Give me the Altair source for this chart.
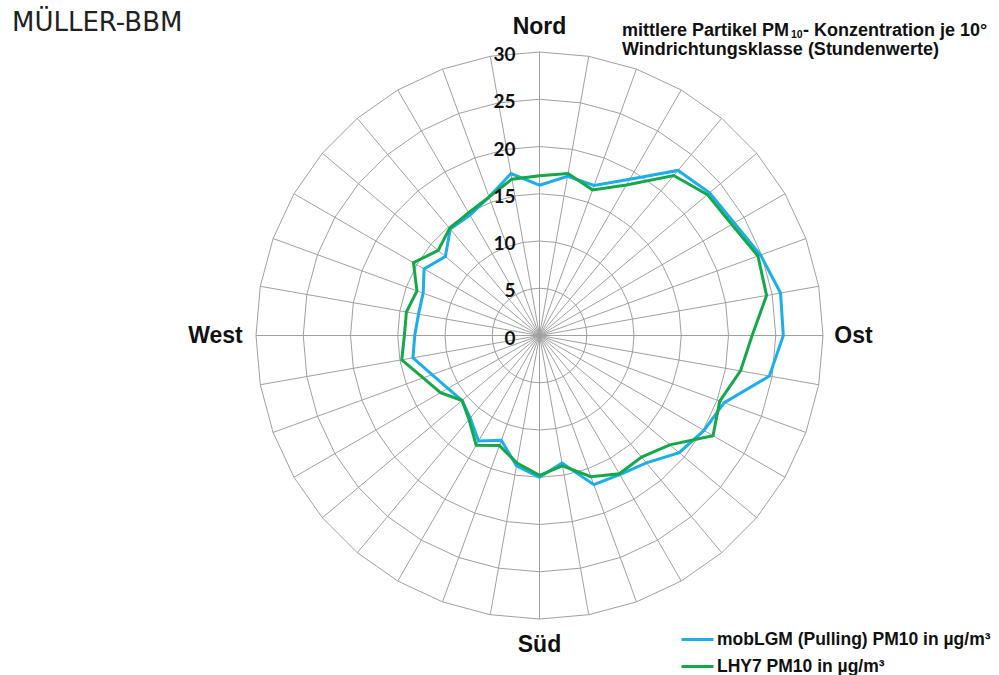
import altair as alt
import pandas as pd

angles = list(range(0, 360, 10))
series_names = ["mobLGM (Pulling) PM10 in µg/m³", "LHY7 PM10 in µg/m³"]
series_colors = ["#1CAEEB", "#15A84A"]
blue_vals = [15.9, 17.1, 16.9, 19.1, 22.8, 23.5, 23.8, 24.9, 25.9, 25.8, 24.7, 20.8,
             20.1, 19.3, 17.6, 17.0, 16.8, 13.7, 15.0, 14.0, 11.8, 12.9, 11.4, 10.7,
             11.2, 12.1, 13.6, 13.2, 13.0, 13.1, 14.1, 13.0, 14.7, 14.7, 15.6, 17.4]
green_vals = [16.9, 17.4, 16.4, 18.4, 22.1, 23.2, 23.5, 24.6, 24.4, 22.5, 21.6, 20.3,
              21.2, 18.0, 16.8, 16.9, 15.9, 14.0, 14.8, 13.7, 12.4, 13.4, 11.6, 10.7,
              12.1, 13.1, 14.8, 14.3, 14.3, 13.8, 15.4, 14.0, 14.8, 15.0, 15.6, 16.8]
ring_levels = [5, 10, 15, 20, 25, 30]
tick_values = [0, 5, 10, 15, 20, 25, 30]
directions = ["Nord", "Ost", "Süd", "West"]
title_parts = ["mittlere Partikel PM", "10", "- Konzentration je 10°"]
title_line2 = "Windrichtungsklasse (Stundenwerte)"
logo = "MÜLLER-BBM"

RMAX = 30
W = H = 567
xs = alt.Scale(domain=[-RMAX, RMAX], nice=False, zero=False)
ys = alt.Scale(domain=[-RMAX, RMAX], nice=False, zero=False)
color = alt.Color("series:N", scale=alt.Scale(domain=series_names, range=series_colors),
                  legend=alt.Legend(title=None))

df = pd.concat([
    pd.DataFrame({"angle": angles, "value": blue_vals, "series": series_names[0]}),
    pd.DataFrame({"angle": angles, "value": green_vals, "series": series_names[1]}),
])
rings = pd.DataFrame([{"level": l, "angle": a} for l in ring_levels for a in angles])
spokes = pd.DataFrame({"angle": angles, "r": RMAX})
ticks = pd.DataFrame({"v": tick_values})

xy = dict(x=alt.X("x:Q", scale=xs, axis=None), y=alt.Y("y:Q", scale=ys, axis=None))

ring_layer = alt.Chart(rings).transform_calculate(
    x="datum.level*sin(datum.angle*PI/180)", y="datum.level*cos(datum.angle*PI/180)"
).mark_line(interpolate="linear-closed", color="#A0A0A0", strokeWidth=1).encode(
    detail="level:N", order="angle:Q", **xy)

spoke_layer = alt.Chart(spokes).transform_calculate(
    x0="0", y0="0",
    x="datum.r*sin(datum.angle*PI/180)", y="datum.r*cos(datum.angle*PI/180)"
).mark_rule(color="#A0A0A0", strokeWidth=1).encode(
    x=alt.X("x0:Q", scale=xs, axis=None), y=alt.Y("y0:Q", scale=ys, axis=None),
    x2="x:Q", y2="y:Q")

def series_layer(name):
    return alt.Chart(df).transform_filter(alt.datum.series == name).transform_calculate(
        x="datum.value*sin(datum.angle*PI/180)", y="datum.value*cos(datum.angle*PI/180)"
    ).mark_line(interpolate="linear-closed", strokeWidth=3).encode(
        color=color, order="angle:Q", **xy)

tick_layer = alt.Chart(ticks).transform_calculate(x0="0").mark_text(
    align="right", baseline="middle", dx=-24, dy=3, font="Lato", fontWeight="bold",
    fontSize=19, color="#111").encode(
    x=alt.X("x0:Q", scale=xs, axis=None), y=alt.Y("v:Q", scale=ys, axis=None), text="v:Q")

dir_font = dict(font="Liberation Sans", fontWeight="bold", fontSize=23, color="#111",
                baseline="middle")
dir_pos = {"Nord": (0, 32.6, "center"), "Ost": (31.2, 0, "left"),
           "Süd": (0, -32.8, "center"), "West": (-31.4, 0, "right")}
dir_layers = []
for d in directions:
    px, py, al = dir_pos[d]
    dir_layers.append(alt.Chart(pd.DataFrame({"t": [d]})).mark_text(align=al, **dir_font).encode(
        x=alt.datum(px, scale=xs), y=alt.datum(py, scale=ys), text="t:N"))

tfont = dict(font="Liberation Sans", fontWeight="bold", color="#111", align="left")
t1a = alt.Chart(pd.DataFrame({"t": [title_parts[0]]})).mark_text(
    fontSize=18, baseline="alphabetic", **tfont).encode(
    x=alt.value(366), y=alt.value(-16), text="t:N")
t1b = alt.Chart(pd.DataFrame({"t": [title_parts[1]]})).mark_text(
    fontSize=10.5, baseline="alphabetic", **tfont).encode(
    x=alt.value(535), y=alt.value(-14), text="t:N")
t1c = alt.Chart(pd.DataFrame({"t": [title_parts[2]]})).mark_text(
    fontSize=18, baseline="alphabetic", **tfont).encode(
    x=alt.value(547), y=alt.value(-16), text="t:N")
t2 = alt.Chart(pd.DataFrame({"t": [title_line2]})).mark_text(
    fontSize=18, baseline="alphabetic", **tfont).encode(
    x=alt.value(366), y=alt.value(3), text="t:N")
logo_layer = alt.Chart(pd.DataFrame({"t": [logo]})).mark_text(
    align="left", baseline="middle", font="DejaVu Sans", fontSize=26,
    color="#222").encode(x=alt.value(-244), y=alt.value(-29), text="t:N")

chart = alt.layer(
    ring_layer, spoke_layer, series_layer(series_names[0]), series_layer(series_names[1]),
    tick_layer, *dir_layers, t1a, t1b, t1c, t2, logo_layer
).properties(
    width=W, height=H,
    autosize=alt.AutoSizeParams(type="none"),
    padding={"left": 256, "top": 52, "right": 176, "bottom": 56},
    background="white",
).configure_view(stroke=None).configure_legend(
    orient="none", legendX=424, legendY=570, symbolType="stroke", symbolSize=1024,
    symbolStrokeWidth=3, labelFont="Liberation Sans", labelFontWeight="bold",
    labelFontSize=17.5, labelColor="#111", rowPadding=1, labelOffset=2, labelLimit=400,
)

chart.save("out.html", embed_options={"renderer": "svg", "actions": False})
